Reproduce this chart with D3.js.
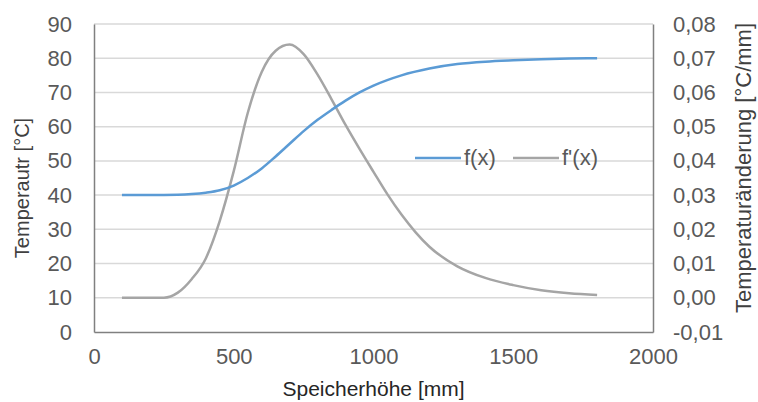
<!DOCTYPE html>
<html>
<head>
<meta charset="utf-8">
<script src="https://cdn.jsdelivr.net/npm/d3@7"></script>
<style>
  html, body { margin: 0; padding: 0; background: #fff; }
  #container { width: 758px; height: 402px; }
</style>
</head>
<body>
<div id="container"></div>
<script>
const { d3 } = window;

// Speicherhöhe [mm] and temperature f(x) [°C]
const F_X = [100, 200, 300, 350, 400, 450, 500, 550, 600, 650, 700, 750, 800, 850, 900, 950, 1000, 1100, 1200, 1300, 1400, 1500, 1600, 1700, 1800];
const F_Y = [40, 40, 40.1, 40.3, 40.7, 41.4, 42.8, 45, 47.8, 51.3, 55, 58.7, 62, 64.9, 67.6, 70, 72, 75, 77, 78.3, 79, 79.4, 79.7, 79.9, 80];

// derivative f'(x) [°C/mm]
const D_X = [100, 200, 250, 300, 350, 400, 450, 500, 550, 600, 650, 700, 750, 800, 850, 900, 950, 1000, 1050, 1100, 1150, 1200, 1300, 1400, 1500, 1600, 1700, 1800];
const D_Y = [0, 0, 0, 0.0015, 0.0055, 0.0115, 0.0225, 0.037, 0.054, 0.066, 0.0722, 0.074, 0.0712, 0.0652, 0.058, 0.0505, 0.0435, 0.0368, 0.0302, 0.0243, 0.0192, 0.0149, 0.0092, 0.0058, 0.0037, 0.0022, 0.0013, 0.0008];

const X_TICKS = [0, 500, 1000, 1500, 2000];
const LEFT_TICKS = [0, 10, 20, 30, 40, 50, 60, 70, 80, 90];
const RIGHT_TICKS = [-0.01, 0, 0.01, 0.02, 0.03, 0.04, 0.05, 0.06, 0.07, 0.08];

const SERIES = ['f(x)', "f'(x)"];
const COLORS = ['#5B9BD5', '#A5A5A5'];

const W = 758;
const H = 402;
const margin = { top: 24, right: 105, bottom: 70, left: 94 };
const FONT = '"Liberation Sans", Arial, sans-serif';
const TEXT = '#595959';

function initSVG() {
  return d3.select('#container')
    .append('svg')
    .attr('width', W)
    .attr('height', H)
    .style('font-family', FONT);
}

function drawChart(svg) {
  const x = d3.scaleLinear().domain([0, 2000]).range([margin.left, W - margin.right]);
  const yL = d3.scaleLinear().domain([0, 90]).range([H - margin.bottom, margin.top]);
  const yR = d3.scaleLinear().domain([-0.01, 0.08]).range([H - margin.bottom, margin.top]);

  // gridlines
  svg.append('g')
    .selectAll('line')
    .data(LEFT_TICKS.filter((d) => d > 0))
    .join('line')
    .attr('x1', x(0))
    .attr('x2', x(2000))
    .attr('y1', (d) => yL(d))
    .attr('y2', (d) => yL(d))
    .attr('stroke', '#D9D9D9')
    .attr('stroke-width', 1.5);

  // axes
  const left = svg.append('g')
    .attr('transform', `translate(${x(0)},0)`)
    .call(d3.axisLeft(yL).tickValues(LEFT_TICKS).tickSize(0).tickPadding(22));
  const right = svg.append('g')
    .attr('transform', `translate(${x(2000)},0)`)
    .call(d3.axisRight(yR).tickValues(RIGHT_TICKS).tickSize(0).tickPadding(20)
      .tickFormat((d) => d3.format('.2f')(d).replace('.', ',').replace('−', '-')));
  const bottom = svg.append('g')
    .attr('transform', `translate(0,${yL(0)})`)
    .call(d3.axisBottom(x).tickValues(X_TICKS).tickSize(0).tickPadding(12)
      .tickFormat(d3.format('d')));

  [left, right, bottom].forEach((g) => {
    g.select('.domain').attr('stroke', '#808080').attr('stroke-width', 1.5);
    g.selectAll('text')
      .attr('fill', TEXT)
      .style('font-size', '22px')
      .style('font-family', FONT);
  });
  bottom.selectAll('text').attr('dy', '0.9em');

  // lines
  const lineF = d3.line()
    .x((d, i) => x(F_X[i]))
    .y((d) => yL(d))
    .curve(d3.curveMonotoneX);
  const lineD = d3.line()
    .x((d, i) => x(D_X[i]))
    .y((d) => yR(d))
    .curve(d3.curveMonotoneX);

  svg.append('path')
    .datum(D_Y)
    .attr('d', lineD)
    .attr('fill', 'none')
    .attr('stroke', COLORS[1])
    .attr('stroke-width', 2.5);

  svg.append('path')
    .datum(F_Y)
    .attr('d', lineF)
    .attr('fill', 'none')
    .attr('stroke', COLORS[0])
    .attr('stroke-width', 2.5);

  // legend
  const legendX = [415, 513];
  const legend = svg.append('g')
    .selectAll('g')
    .data(SERIES)
    .join('g')
    .attr('transform', (d, i) => `translate(${legendX[i]},158)`);
  legend.append('line')
    .attr('x1', 0)
    .attr('x2', 46)
    .attr('stroke', (d, i) => COLORS[i])
    .attr('stroke-width', 2.5);
  legend.append('text')
    .attr('x', 49)
    .attr('y', 7)
    .attr('fill', TEXT)
    .style('font-size', '22px')
    .text((d) => d);

  // axis titles
  svg.append('text')
    .attr('transform', 'translate(29,188) rotate(-90)')
    .attr('text-anchor', 'middle')
    .attr('fill', '#404040')
    .style('font-size', '20px')
    .text('Temperautr [°C]');

  svg.append('text')
    .attr('transform', 'translate(751,168) rotate(-90)')
    .attr('text-anchor', 'middle')
    .attr('fill', '#404040')
    .style('font-size', '22px')
    .text('Temperaturänderung [°C/mm]');

  svg.append('text')
    .attr('x', (x(0) + x(2000)) / 2)
    .attr('y', 396)
    .attr('text-anchor', 'middle')
    .attr('fill', '#262626')
    .style('font-size', '21px')
    .text('Speicherhöhe [mm]');
}

function boot() {
  const svg = initSVG();
  drawChart(svg);
}

boot();
</script>
</body>
</html>
